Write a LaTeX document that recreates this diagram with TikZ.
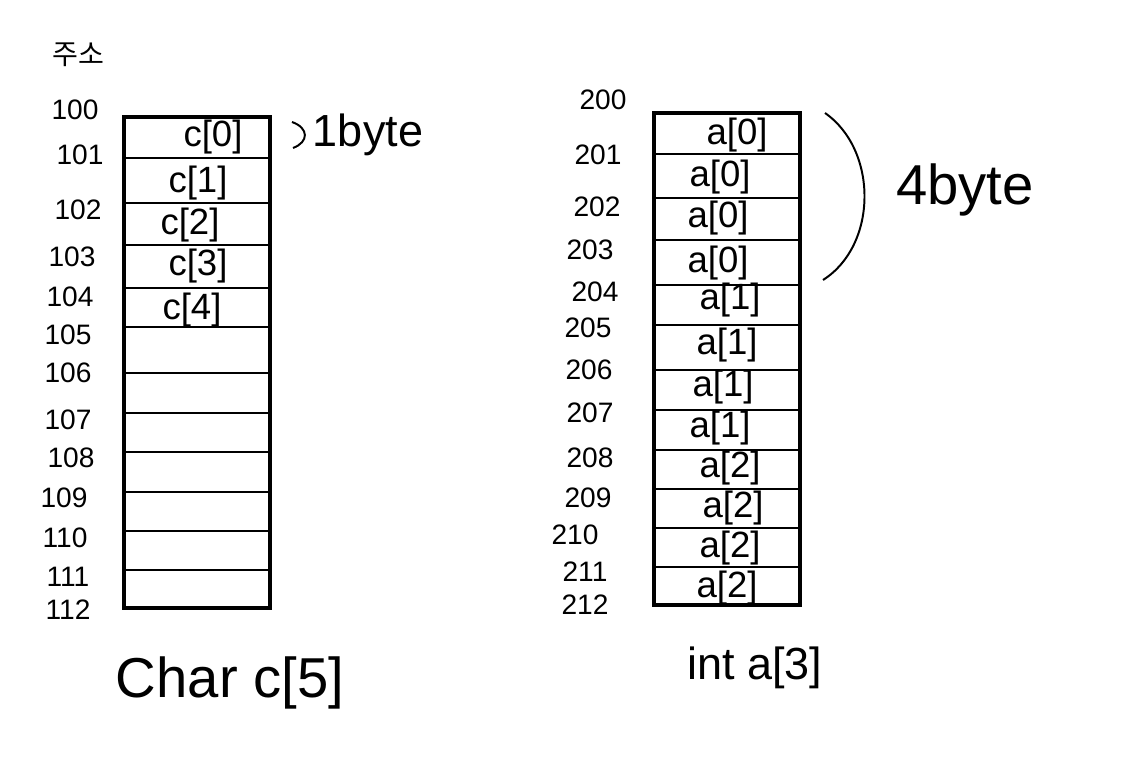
\documentclass[tikz,border=0pt]{standalone}
\usepackage{fontspec}
\setmainfont{Liberation Sans}
\newfontfamily\krfont{Noto Sans CJK KR}
\begin{document}
\begin{tikzpicture}[x=0.025cm, y=-0.025cm,
          every node/.style={inner sep=0pt},
          addr/.style={font=\fontsize{20}{20}\selectfont},
          cell/.style={font=\fontsize{26}{26}\selectfont},
          title/.style={font=\fontsize{40}{40}\selectfont},
          box/.style={line width=2.8pt},
          row/.style={line width=2.1pt},
          brace/.style={line width=1.4pt}]
\useasboundingbox (0,0) rectangle (1130,780);

% char c[5]
\draw[box] (124,117) rectangle (270,608);
\foreach \y in {158,203,245,288,327,373,413,452,492,531,570}
  \draw[row] (124,\y) -- (270,\y);
\node[font=\krfont\fontsize{20}{20}\selectfont] (addr) at (78,55) {주소};
\foreach \lab/\x/\y in {100/75/110, 101/80/155, 102/78/210, 103/72/257,
    104/70/297, 105/68/335, 106/68/373, 107/68/420, 108/71/458,
    109/64/498, 110/65/538, 111/68/577, 112/68/610}
  \node[addr] (l\lab) at (\x,\y) {\lab};
\foreach \i/\x/\y in {0/213/137, 1/198/183, 2/190/225, 3/198/266, 4/192/310}
  \node[cell] (c\i) at (\x,\y) {c[\i]};
\draw[brace] (292,122) .. controls (309,128) and (309,142) .. (293,148);
\node[font=\fontsize{32}{32}\selectfont] (onebyte) at (368,135) {1byte};
\node[title] (chararr) at (230,683) {Char c[5]};

% int a[3]
\draw[box] (654,113) rectangle (800,605);
\foreach \y in {154,198,240,285,325,370,410,450,489,528,567}
  \draw[row] (654,\y) -- (800,\y);
\foreach \lab/\x/\y in {200/603/100, 201/598/155, 202/597/207, 203/590/250,
    204/595/292, 205/588/328, 206/589/370, 207/590/413, 208/590/458,
    209/588/498, 210/575/535, 211/585/572, 212/585/605}
  \node[addr] (r\lab) at (\x,\y) {\lab};
\foreach \k/\i/\x/\y in {1/0/737/135, 2/0/720/177, 3/0/718/218, 4/0/718/263,
    5/1/730/300, 6/1/727/345, 7/1/723/387, 8/1/720/428,
    9/2/730/468, 10/2/733/508, 11/2/730/548, 12/2/727/588}
  \node[cell] (a\k) at (\x,\y) {a[\i]};
\draw[brace] (825,113) .. controls (878,150) and (878,245) .. (823,280);
\node[font=\fontsize{40}{40}\selectfont] (fourbyte) at (965,190) {4byte};
\node[font=\fontsize{32}{32}\selectfont] (intarr) at (755,668) {int a[3]};
\end{tikzpicture}
\end{document}
